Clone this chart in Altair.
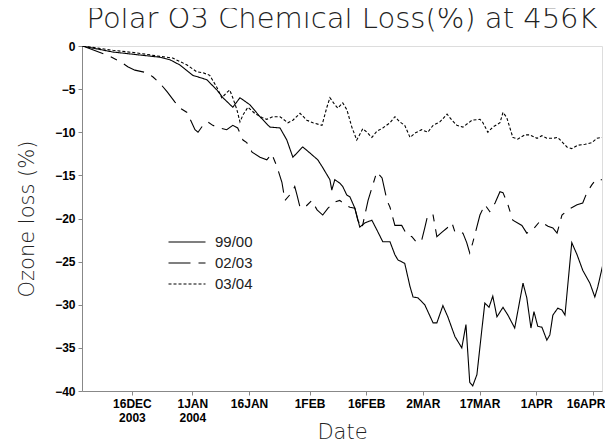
import altair as alt
import pandas as pd

# ---- data (day counted from 1 December; value = ozone loss in %) ----
days_9900 = [1.8, 10.0, 22.4, 25.1, 27.7, 31.1, 34.8, 37.5, 39.1, 41.7, 43.6, 46.2, 48.9, 51.5,
             54.2, 56.0, 57.6, 60.2, 62.1, 64.2, 65.5, 67.4, 67.9, 68.7, 70.0, 70.8, 71.9, 72.7,
             74.0, 75.3, 76.7, 78.5, 79.8, 81.4, 83.3, 84.6, 85.4, 87.2, 88.6, 89.4, 90.7, 92.5,
             94.7, 95.7, 97.3, 98.6, 100.5, 102.3, 103.4, 104.4, 105.2, 106.3, 107.6, 108.4,
             109.5, 110.5, 111.6, 113.2, 114.5, 116.3, 118.5, 119.5, 120.6, 121.4, 122.4, 123.5,
             124.8, 125.6, 126.4, 127.7, 128.8, 129.6, 131.4, 132.8, 134.3, 136.2, 137.5, 138.3,
             139.6]
loss_9900 = [0.0, -0.7, -1.3, -1.6, -2.2, -3.4, -3.9, -5.1, -6.0, -7.1, -6.0, -6.8, -8.2, -9.4,
             -9.5, -10.9, -12.9, -11.7, -12.4, -13.2, -14.1, -15.5, -16.7, -15.5, -15.9, -16.3,
             -17.3, -17.5, -18.8, -21.0, -20.5, -20.2, -21.3, -22.7, -22.7, -24.2, -24.8, -25.2,
             -27.9, -29.1, -29.2, -30.0, -32.1, -32.1, -30.1, -31.4, -33.7, -35.0, -32.3, -39.0,
             -39.4, -38.1, -32.9, -29.8, -30.3, -29.0, -31.4, -30.3, -31.2, -32.7, -27.5, -29.2,
             -32.7, -30.8, -32.5, -32.6, -34.1, -33.5, -31.2, -30.4, -30.6, -31.2, -22.8, -24.2,
             -26.0, -27.5, -29.1, -27.9, -25.4]

days_0203 = [2.0, 9.2, 12.6, 13.9, 15.8, 19.0, 20.6, 22.4, 24.3, 26.4, 27.7, 29.6, 31.7, 32.5,
             33.8, 35.1, 36.4, 38.3, 40.1, 41.7, 43.0, 44.4, 45.4, 46.8, 48.9, 50.7, 52.0, 53.4,
             54.7, 55.5, 57.3, 58.1, 58.7, 59.5, 60.8, 62.6, 64.0, 65.5, 66.9, 68.7, 70.0, 71.4,
             72.7, 74.0, 74.8, 75.9, 77.5, 79.8, 81.2, 82.5, 83.3, 84.6, 86.4, 87.8, 89.1, 90.4,
             91.7, 92.5, 93.3, 94.7, 95.7, 97.0, 98.4, 99.7, 100.5, 101.8, 102.6, 103.6, 104.4,
             105.2, 107.1, 108.4, 109.7, 111.1, 112.4, 113.2, 114.5, 115.8, 118.2, 119.5, 121.1,
             123.0, 125.1, 126.4, 127.5, 128.8, 130.4, 132.8, 134.3, 135.4, 136.7, 137.8, 139.4]
loss_0203 = [0.0, -1.2, -2.0, -2.4, -2.8, -3.1, -3.6, -4.3, -5.3, -6.5, -7.2, -7.7, -9.7, -10.0,
             -9.2, -8.8, -9.2, -9.5, -9.7, -9.2, -9.5, -10.9, -11.2, -12.3, -12.9, -13.2, -12.5,
             -14.0, -15.8, -17.9, -17.0, -16.3, -17.3, -18.7, -18.7, -17.9, -19.0, -19.6, -18.8,
             -18.1, -17.9, -18.4, -18.7, -18.8, -20.2, -21.1, -17.9, -14.6, -15.3, -17.9, -18.7,
             -20.8, -20.8, -21.9, -22.1, -22.8, -22.5, -21.1, -19.6, -19.6, -22.1, -21.6, -21.1,
             -20.5, -21.6, -21.6, -21.7, -22.8, -24.0, -22.8, -19.6, -18.4, -19.2, -18.2, -16.9,
             -17.0, -18.4, -20.2, -20.8, -21.7, -21.3, -20.3, -20.9, -21.1, -21.7, -19.6, -19.0,
             -18.4, -18.2, -17.0, -16.1, -15.5, -15.5]

days_0304 = [2.0, 10.0, 16.3, 22.4, 25.8, 29.6, 32.2, 33.8, 35.6, 37.5, 38.8, 40.1, 40.9, 41.7,
             42.8, 43.6, 44.4, 45.7, 47.5, 49.4, 50.7, 52.3, 54.2, 56.3, 57.6, 59.5, 61.3, 62.9,
             65.3, 66.6, 67.4, 68.7, 69.5, 70.8, 71.9, 73.2, 74.5, 76.1, 77.2, 78.5, 79.8, 81.4,
             83.3, 84.6, 85.9, 87.2, 88.6, 89.9, 91.7, 93.3, 94.7, 96.5, 98.4, 99.7, 101.0, 102.6,
             105.0, 107.1, 107.9, 109.2, 110.5, 112.4, 113.2, 114.2, 115.8, 117.1, 119.0, 120.3,
             122.2, 123.5, 124.8, 126.4, 127.7, 130.1, 131.4, 133.0, 134.9, 136.7, 138.1, 139.4]
loss_0304 = [0.0, -0.5, -0.8, -1.2, -1.4, -2.2, -3.0, -3.1, -3.4, -4.8, -6.0, -5.4, -5.1, -6.0,
             -7.4, -8.8, -8.0, -7.1, -7.8, -8.3, -8.5, -8.2, -8.2, -8.9, -8.6, -7.8, -8.6, -8.9,
             -9.2, -7.1, -6.0, -6.8, -7.2, -6.6, -7.4, -9.4, -10.9, -9.6, -10.0, -10.6, -9.9,
             -9.5, -8.9, -8.2, -8.8, -9.2, -10.6, -10.1, -9.7, -10.0, -9.2, -8.8, -7.9, -8.6,
             -9.2, -9.4, -8.6, -8.5, -8.9, -10.0, -9.4, -8.9, -7.7, -8.3, -10.6, -10.8, -10.3,
             -10.3, -10.7, -10.4, -10.7, -10.7, -10.6, -11.7, -11.9, -11.5, -11.4, -11.2, -10.7,
             -10.6]

series_names = ["99/00", "02/03", "03/04"]
dash_styles = [[1, 0], [22, 8, 7, 8], [3, 2]]

tick_days = [15, 31, 46, 62, 77, 92, 107, 122, 137]
tick_labels = ["16DEC", "1JAN", "16JAN", "1FEB", "16FEB", "2MAR", "17MAR", "1APR", "16APR"]
tick_years = ["2003", "2004", "", "", "", "", "", "", ""]

y_ticks = [0, -5, -10, -15, -20, -25, -30, -35, -40]

# ---- build table ----
rows = []
for name, ds, ls in zip(series_names,
                        [days_9900, days_0203, days_0304],
                        [loss_9900, loss_0203, loss_0304]):
    for d, v in zip(ds, ls):
        rows.append({"day": d, "loss": v, "season": name})
df = pd.DataFrame(rows)

# label expression with optional second line (year)
expr = "''"
for d, lab, yr in reversed(list(zip(tick_days, tick_labels, tick_years))):
    txt = f"['{lab}', '{yr}']" if yr else f"'{lab}'"
    expr = f"datum.value == {d} ? {txt} : ({expr})"

thin_font = "DejaVu Sans"

chart = alt.Chart(df).mark_line(color="black", strokeWidth=1.1, clip=True).encode(
    x=alt.X("day:Q",
            scale=alt.Scale(domain=[1.8, 139.4], nice=False, zero=False),
            axis=alt.Axis(values=tick_days, labelExpr=expr, title="Date",
                          titleFont=thin_font, titleFontSize=21, titleFontWeight=200,
                          titleColor="#222", titleX=260, titleY=47,
                          titleBaseline="alphabetic",
                          labelFont="Liberation Sans", labelFontWeight="bold",
                          labelFontSize=12, labelColor="black", labelPadding=3,
                          labelLineHeight=14, labelOverlap=False,
                          labelFlush=15, labelFlushOffset=12,
                          tickSize=4, grid=False)),
    y=alt.Y("loss:Q",
            scale=alt.Scale(domain=[-40, 0], nice=False, zero=False),
            axis=alt.Axis(values=y_ticks, format="d", title="Ozone loss (%)",
                          titleFont=thin_font, titleFontSize=21, titleFontWeight=200,
                          titleColor="#222", titleX=-55, titleY=172.5,
                          titleAngle=-90, titleBaseline="middle", titleAlign="center",
                          labelFont="Liberation Sans", labelFontWeight="bold",
                          labelFontSize=12, labelColor="black", labelPadding=3,
                          tickSize=4, grid=False)),
    strokeDash=alt.StrokeDash("season:N",
                              scale=alt.Scale(domain=series_names, range=dash_styles),
                              legend=alt.Legend(title=None, orient="none",
                                                legendX=94, legendY=185,
                                                symbolType="M-1.85,0H1.85", symbolSize=400,
                                                symbolStrokeColor="black",
                                                symbolStrokeWidth=1.1,
                                                labelFont="Liberation Sans", labelFontSize=15,
                                                labelColor="#222",
                                                labelOffset=17, rowPadding=2, padding=0)),
).properties(
    width=520, height=345,
    title=alt.Title("Polar O3 Chemical Loss(%) at 456K", font=thin_font, fontSize=29,
                    fontWeight=200, color="#222", anchor="middle", offset=6),
    autosize=alt.AutoSizeParams(type="none"),
    padding={"left": 74, "top": 38, "right": 3, "bottom": 49},
).configure_view(
    stroke="black", strokeWidth=2
).configure_axis(
    domainColor="black", domainWidth=2, tickColor="black", tickWidth=1.5
).configure(background="white")

chart.save("out.html", embed_options={"renderer": "svg", "actions": False})
